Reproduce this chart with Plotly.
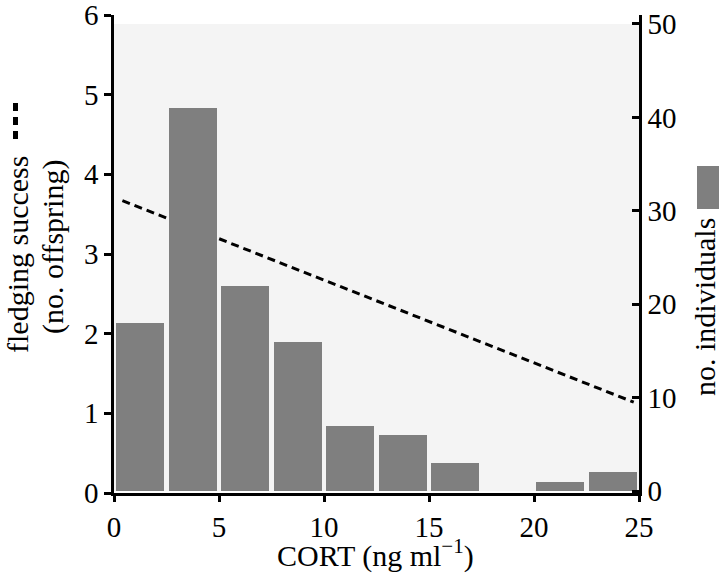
import plotly.graph_objects as go

# ---- data ----
bin_centers = [1.25, 3.75, 6.25, 8.75, 11.25, 13.75, 16.25, 18.75, 21.25, 23.75]
n_individuals = [18, 41, 22, 16, 7, 6, 3, 0, 1, 2]
line_x = [0.4, 24.75]
line_y = [3.67, 1.14]
x_ticks = [0, 5, 10, 15, 20, 25]
left_ticks = [0, 1, 2, 3, 4, 5, 6]
right_ticks = [0, 10, 20, 30, 40, 50]

# ---- layout geometry (pixels) ----
W, H = 722, 576
L, R, T, B = 114, 83, 15, 83
PW = W - L - R
PH = H - T - B


def px(xp):
    return (xp - L) / PW


def py(yp):
    return (H - B - yp) / PH


FONT = "Liberation Serif, Times New Roman, serif"
BAR_COLOR = "#7f7f7f"
TICK_SIZE = 29
TITLE_SIZE = 30

fig = go.Figure()

fig.add_trace(go.Bar(
    x=bin_centers, y=n_individuals, width=2.3,
    marker=dict(color=BAR_COLOR, line=dict(width=0)),
    yaxis="y2", showlegend=False,
))

fig.add_trace(go.Scatter(
    x=line_x, y=line_y, mode="lines",
    line=dict(color="black", width=3, dash="8px,5px"),
    yaxis="y", showlegend=False,
))

shapes = [
    # light grey plotting panel
    dict(type="rect", xref="x", yref="y2", x0=x_ticks[0], x1=x_ticks[-1],
         y0=right_ticks[0], y1=right_ticks[-1], fillcolor="#f4f4f4",
         line=dict(width=0), layer="below"),
    # dashed-line key next to left title
    dict(type="line", xref="paper", yref="paper", x0=px(15.5), x1=px(15.5),
         y0=py(103), y1=py(141), line=dict(color="black", width=5, dash="8px,6px")),
    # bar key next to right title
    dict(type="rect", xref="paper", yref="paper", x0=px(697), x1=px(719),
         y0=py(209), y1=py(166), fillcolor=BAR_COLOR, line=dict(width=0)),
]

annotations = [
    dict(text="fledging success", xref="paper", yref="paper", x=px(17), y=py(255),
         textangle=-90, showarrow=False, xanchor="center", yanchor="middle",
         font=dict(family=FONT, size=TITLE_SIZE, color="black")),
    dict(text="(no. offspring)", xref="paper", yref="paper", x=px(53), y=py(247),
         textangle=-90, showarrow=False, xanchor="center", yanchor="middle",
         font=dict(family=FONT, size=TITLE_SIZE, color="black")),
    dict(text="no. individuals", xref="paper", yref="paper", x=px(705), y=py(307),
         textangle=-90, showarrow=False, xanchor="center", yanchor="middle",
         font=dict(family=FONT, size=TITLE_SIZE, color="black")),
    dict(text="CORT (ng ml<sup>−1</sup>)", xref="paper", yref="paper", x=px(375), y=py(553),
         showarrow=False, xanchor="center", yanchor="middle",
         font=dict(family=FONT, size=TITLE_SIZE, color="black")),
]

axis_common = dict(showline=True, linecolor="black", linewidth=2.5, tickwidth=2.5,
                   tickcolor="black", showgrid=False, zeroline=False, automargin=False,
                   ticklabeloverflow="allow",
                   tickfont=dict(family=FONT, size=TICK_SIZE, color="black"))

fig.update_layout(
    width=W, height=H,
    margin=dict(l=L, r=R, t=T, b=B, pad=0, autoexpand=False),
    paper_bgcolor="white", plot_bgcolor="white",
    font=dict(family=FONT, size=TICK_SIZE, color="black"),
    bargap=0,
    shapes=shapes, annotations=annotations,
    xaxis=dict(range=[0, 25], tickvals=x_ticks, ticks="outside", ticklen=6, **axis_common),
    yaxis=dict(range=[0, 6], tickvals=left_ticks, ticks="outside", ticklen=7, **axis_common),
    yaxis2=dict(range=[-0.21, 50.96], tickvals=right_ticks, overlaying="y", side="right",
                ticks="inside", ticklen=7, **axis_common),
)

fig.write_html(
    "out.html",
    config={"displayModeBar": False},
    post_script="document.body.style.margin='0px';document.body.style.overflow='hidden';",
)
